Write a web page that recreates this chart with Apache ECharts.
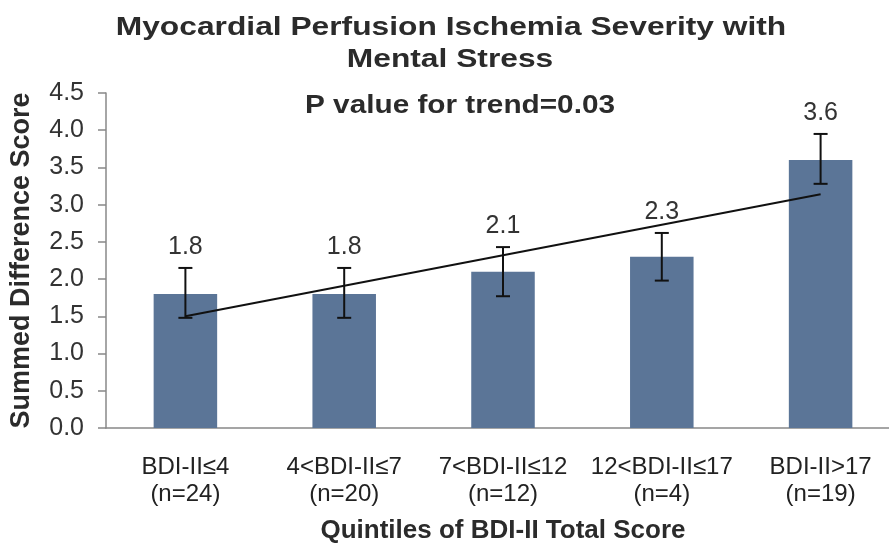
<!DOCTYPE html>
<html>
<head>
<meta charset="utf-8">
<script src="https://cdn.jsdelivr.net/npm/echarts@6/dist/echarts.min.js"></script>
<style>
  html, body { margin: 0; padding: 0; background: #fff; }
  #chart { width: 889px; height: 545px; }
</style>
</head>
<body>
<div id="chart"></div>
<script>
// data
const categories = ['BDI-II≤4\n(n=24)', '4<BDI-II≤7\n(n=20)', '7<BDI-II≤12\n(n=12)', '12<BDI-II≤17\n(n=4)', 'BDI-II>17\n(n=19)']
const means = [1.8, 1.8, 2.1, 2.3, 3.6]
const errLow = [1.48, 1.48, 1.77, 1.98, 3.28]
const errHigh = [2.15, 2.15, 2.43, 2.62, 3.95]
const trend = [1.5, null, null, null, 3.14]

const barColor = '#5b7597'
const font = 'Liberation Sans, Arial, sans-serif'

const chart = echarts.init(document.getElementById('chart'))

// error bars with value labels above
function renderErr(params, api) {
  const i = api.value(0)
  const lo = api.coord([i, api.value(1)])
  const hi = api.coord([i, api.value(2)])
  const cap = 7
  const style = { stroke: '#111', lineWidth: 2 }
  return {
    type: 'group',
    children: [
      { type: 'line', shape: { x1: lo[0], y1: lo[1], x2: hi[0], y2: hi[1] }, style },
      { type: 'line', shape: { x1: lo[0] - cap, y1: lo[1], x2: lo[0] + cap, y2: lo[1] }, style },
      { type: 'line', shape: { x1: hi[0] - cap, y1: hi[1], x2: hi[0] + cap, y2: hi[1] }, style },
      {
        type: 'text',
        style: {
          text: api.value(3).toFixed(1),
          x: hi[0], y: hi[1] - 21,
          align: 'center', verticalAlign: 'middle',
          font: '25px ' + font, fill: '#333'
        }
      }
    ]
  }
}

function headText(text, x, y, sx) {
  return {
    type: 'text', x, y, scaleX: sx,
    style: {
      text, align: 'center', verticalAlign: 'middle',
      font: 'bold 25px ' + font, fill: '#2b2b2b'
    }
  }
}

const option = {
  backgroundColor: '#fff',
  animation: false,
  graphic: [
    headText('Myocardial Perfusion Ischemia Severity with', 451, 28, 1.27),
    headText('Mental Stress', 450, 60, 1.27),
    headText('P value for trend=0.03', 460, 106, 1.19)
  ],
  grid: { left: 106, top: 93, width: 794, height: 335, outerBoundsMode: 'none' },
  xAxis: {
    type: 'category',
    data: categories,
    axisLine: { lineStyle: { color: '#888', width: 1.5 } },
    axisTick: { show: false },
    axisLabel: {
      fontFamily: font, fontSize: 24, color: '#222', lineHeight: 27, margin: 26, interval: 0
    },
    name: 'Quintiles of BDI-II Total Score',
    nameLocation: 'middle',
    nameGap: 90,
    nameTextStyle: { fontFamily: font, fontSize: 26, fontWeight: 'bold', color: '#2b2b2b' }
  },
  yAxis: {
    type: 'value',
    min: 0, max: 4.5, interval: 0.5,
    splitLine: { show: false },
    axisLine: { show: true, lineStyle: { color: '#888', width: 1.5 } },
    axisTick: { show: true, inside: false, length: 8, lineStyle: { color: '#888', width: 1.5 } },
    axisLabel: {
      fontFamily: font, fontSize: 25, color: '#333', margin: 22,
      formatter: v => v.toFixed(1)
    },
    name: 'Summed Difference Score',
    nameLocation: 'middle',
    nameGap: 71,
    nameRotate: 90,
    nameTextStyle: { fontFamily: font, fontSize: 27, fontWeight: 'bold', color: '#2b2b2b' }
  },
  series: [
    {
      type: 'bar',
      data: means,
      barWidth: '40%',
      itemStyle: { color: barColor },
      z: 1
    },
    {
      type: 'custom',
      renderItem: renderErr,
      data: means.map((m, i) => [i, errLow[i], errHigh[i], m]),
      encode: { x: 0, y: [1, 2] },
      z: 3
    },
    {
      type: 'line',
      data: trend,
      connectNulls: true,
      symbol: 'none',
      lineStyle: { color: '#111', width: 2 },
      z: 4
    }
  ]
}

chart.setOption(option)
</script>
</body>
</html>
